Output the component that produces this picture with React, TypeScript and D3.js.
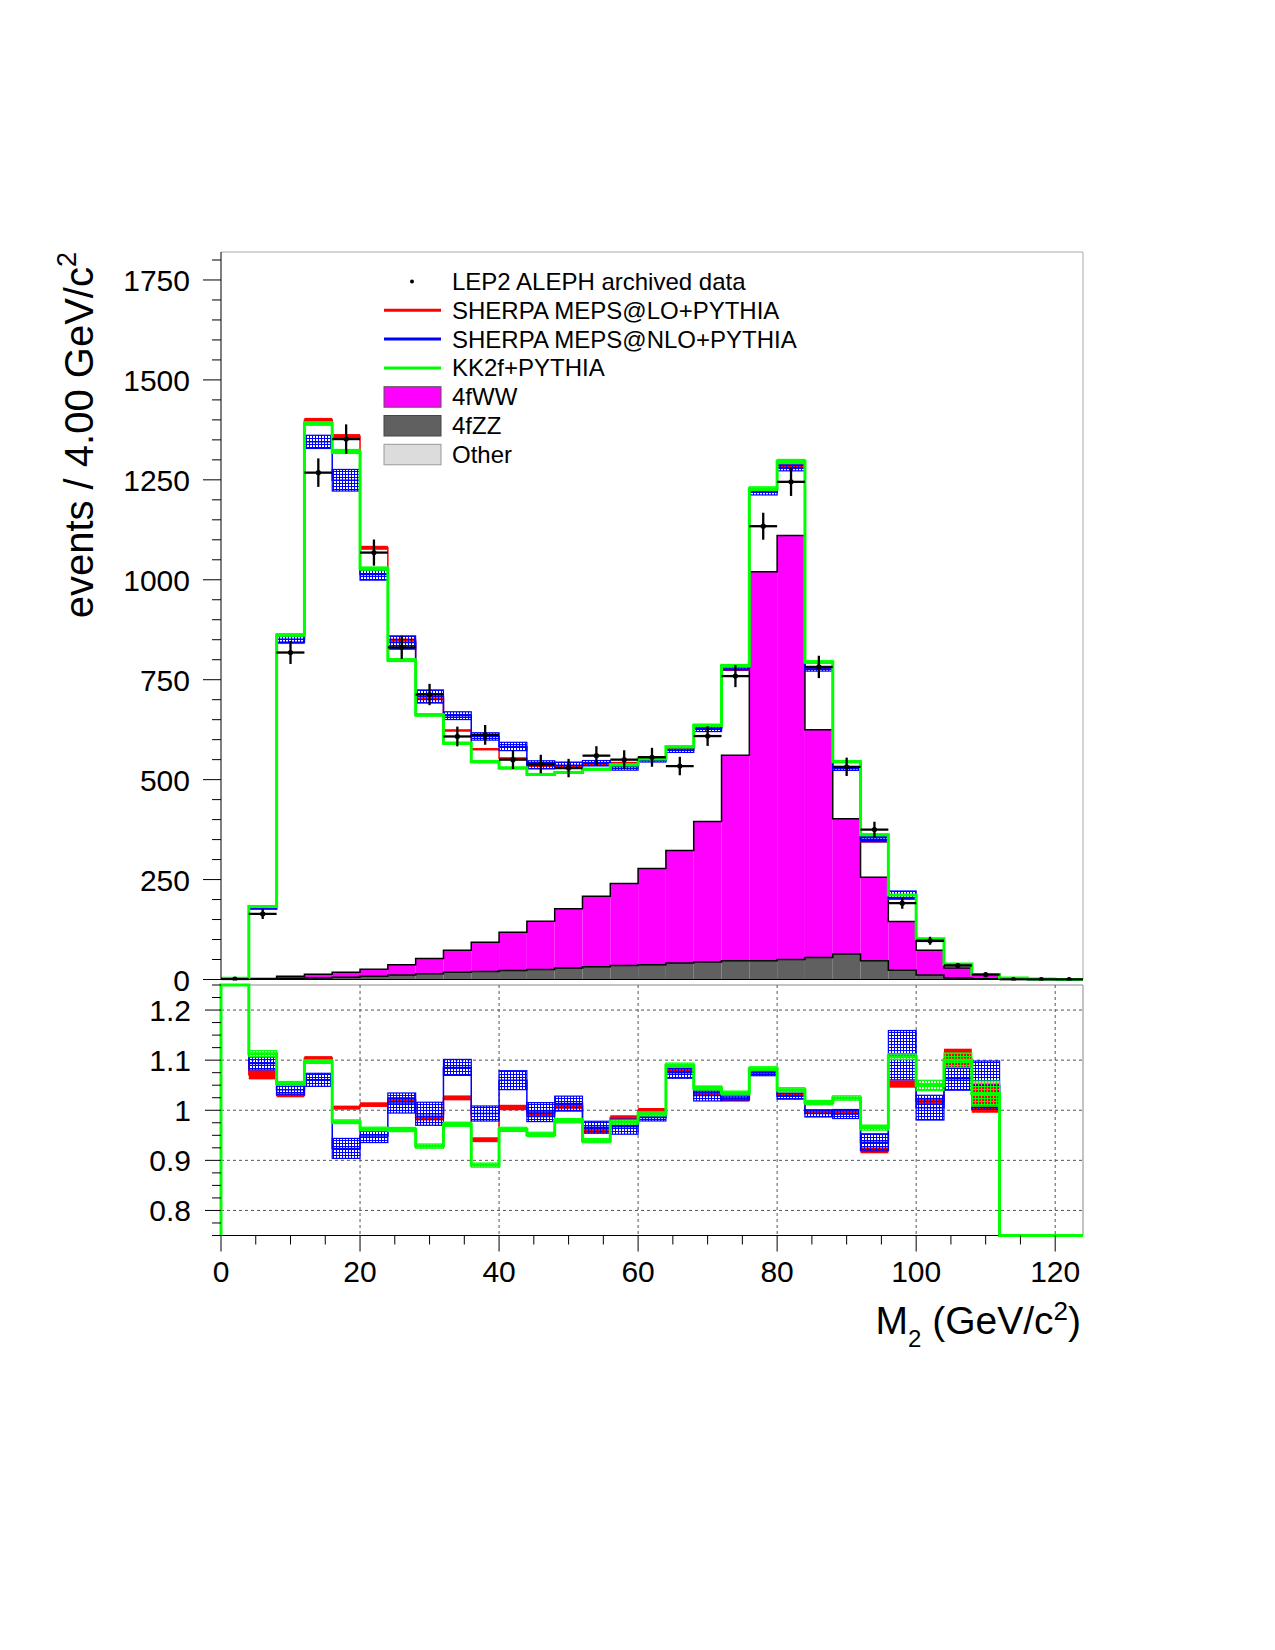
import * as d3 from "d3";

// bins of M2, 4 GeV wide
const binLow = [0, 4, 8, 12, 16, 20, 24, 28, 32, 36, 40, 44, 48, 52, 56, 60, 64, 68, 72, 76, 80, 84, 88, 92, 96, 100, 104, 108, 112, 116, 120];
const binWidth = 4;

const aleph = [1, 164, 818, 1268, 1352, 1068, 831, 713, 608, 612, 550, 539, 529, 560, 550, 556, 534, 609, 759, 1134, 1245, 782, 532, 375, 191, 97, 35, 12, 0, 0, 0];

const sherpaLO = [3, 175.6, 842.5, 1400, 1359, 1080, 849, 702, 623, 576, 553, 534, 533, 537, 542, 556, 578, 630, 775, 1221, 1284, 780, 530, 345, 201, 98.8, 38.6, 12.3, 4, 1, 0];
const sherpaLOErr = [0.5, 1.5, 3.3, 5, 5.5, 5, 4, 3.5, 3, 3, 3, 2.5, 2.5, 2.5, 2.5, 2.5, 2.5, 3, 3, 4, 4.5, 3.5, 2.5, 2.2, 1.4, 0.6, 0.7, 0.36, 0.2, 0.1, 0];
const sherpaNLO = [3, 179.3, 851.5, 1345, 1249, 1013, 843, 708, 660, 608, 583, 537, 536, 541, 532, 548, 574, 627, 779, 1219, 1280, 777, 528, 351, 212, 97.5, 37.2, 12.6, 4, 1, 0];
const sherpaNLOErr = [0.5, 2.1, 8.2, 16.5, 27, 13.9, 16.6, 16.4, 9.7, 9.2, 10.4, 10.2, 7.9, 6.7, 8.3, 3.9, 5.9, 6.7, 4.6, 6.8, 7.5, 5.5, 4.8, 6.4, 9.4, 2.4, 0.8, 0.58, 0.3, 0.1, 0];
const kk2f = [3, 182.5, 862, 1391, 1321, 1028, 799, 662, 591, 545, 529, 513, 518, 526, 537, 552, 582, 636, 785, 1228, 1296, 794, 545, 362, 211.4, 101.8, 38.5, 12.4, 4, 1, 0];
const kk2fErr = [0.3, 1, 3, 4.5, 5, 4, 3.5, 3, 2.5, 2.5, 2.3, 2.3, 2.3, 2.3, 2.3, 2.3, 2.3, 2.5, 3, 4.5, 5, 3.3, 2.3, 1.9, 1.1, 1.0, 0.5, 0.3, 0.2, 0.1, 0];

// stacked backgrounds, bottom to top
const otherBkg = [0.5, 0.5, 1, 1, 1, 1, 1, 1, 1, 1, 1, 1, 1, 1, 1, 1, 1, 1, 1, 1, 1, 1, 1, 1, 0.5, 0.3, 0.2, 0.1, 0, 0, 0];
const zzBkg = [0.5, 1.2, 2, 3, 4.5, 7, 10, 13.5, 17, 19, 21.5, 24, 28, 31, 34, 36, 40, 43, 46, 46, 49, 54, 63, 46, 22.5, 10.7, 3.8, 1.9, 1, 0.3, 0.1];
const wwBkg = [1, 1, 5, 9, 12.5, 17.5, 26, 38, 55, 73, 95.5, 121, 148, 176, 205, 241, 282, 351, 514, 973, 1061, 570, 338, 209, 122, 62, 25, 10, 3.5, 0.7, 0.4];

const countTicks = [0, 250, 500, 750, 1000, 1250, 1500, 1750];
const ratioTicks = [0.8, 0.9, 1, 1.1, 1.2];
const massTicks = [0, 20, 40, 60, 80, 100, 120];

const FONT = "'Liberation Sans', Arial, Helvetica, sans-serif";
const X0 = 221, X1 = 1083;
const TOP = 252, BASE = 979.5;
const RTOP = 985, RBOT = 1235.5;

const RED = "#ff0000", BLUE = "#0000ff", GREEN = "#00ff00";

type Pt = [number, number];

export default function App() {
  const x = d3.scaleLinear().domain([0, 124]).range([X0, X1]);
  const y = d3.scaleLinear().domain([0, 1820]).range([BASE, TOP]);
  const yr = d3.scaleLinear().domain([0.75, 1.25]).range([RBOT, RTOP]).clamp(true);

  const n = binLow.length;
  const stepPath = (vals: number[], ys: d3.ScaleLinear<number, number>, base: number) => {
    const pts: Pt[] = [[binLow[0], base]];
    vals.forEach((v, i) => pts.push([binLow[i], v]));
    pts.push([binLow[n - 1] + binWidth, vals[n - 1]]);
    pts.push([binLow[n - 1] + binWidth, base]);
    return d3
      .line<Pt>()
      .x((d) => x(d[0]))
      .y((d) => ys(d[1]))
      .curve(d3.curveStepAfter)(pts) as string;
  };

  const rows = binLow.map((_, i) => ({ other: otherBkg[i], zz: zzBkg[i], ww: wwBkg[i] }));
  const stack = d3.stack<{ other: number; zz: number; ww: number }>().keys(["other", "zz", "ww"])(rows);
  const stackColors = ["#dcdcdc", "#606060", "#ff00ff"];

  const models = [
    { vals: sherpaLO, err: sherpaLOErr, color: RED, fill: RED, stroke: "none", lw: 1.5 },
    { vals: sherpaNLO, err: sherpaNLOErr, color: BLUE, fill: "url(#hatchBlue)", stroke: BLUE, lw: 1.5 },
    { vals: kk2f, err: kk2fErr, color: GREEN, fill: "url(#hatchGreen)", stroke: GREEN, lw: 3 },
  ];

  const ratioOf = (vals: number[]) => vals.map((v, i) => (aleph[i] > 0 ? v / aleph[i] : 0));

  const legend = [
    { label: "LEP2 ALEPH archived data", kind: "dot", color: "#000" },
    { label: "SHERPA MEPS@LO+PYTHIA", kind: "line", color: RED },
    { label: "SHERPA MEPS@NLO+PYTHIA", kind: "line", color: BLUE },
    { label: "KK2f+PYTHIA", kind: "line", color: GREEN },
    { label: "4fWW", kind: "box", color: "#ff00ff", edge: "#555" },
    { label: "4fZZ", kind: "box", color: "#606060", edge: "#444" },
    { label: "Other", kind: "box", color: "#dcdcdc", edge: "#999" },
  ];

  const bw = x(binWidth) - x(0);

  return (
    <svg
      width={1275}
      height={1650}
      style={{ position: "absolute", left: 0, top: 0, background: "#fff" }}
      fontFamily={FONT}
    >
      <defs>
        <pattern id="hatchBlue" width="3" height="3" patternUnits="userSpaceOnUse">
          <rect width="3" height="1" fill={BLUE} />
          <rect width="1" height="3" fill={BLUE} />
        </pattern>
        <pattern id="hatchGreen" width="3" height="3" patternUnits="userSpaceOnUse">
          <rect width="3" height="1" fill={GREEN} />
          <rect width="1" height="3" fill={GREEN} />
        </pattern>
        <clipPath id="clipMain">
          <rect x={X0} y={TOP} width={X1 - X0} height={BASE - TOP + 1} />
        </clipPath>
        <clipPath id="clipRatio">
          <rect x={X0 - 2} y={RTOP - 2} width={X1 - X0 + 4} height={RBOT - RTOP + 4} />
        </clipPath>
      </defs>

      {/* ---------- main pad ---------- */}
      <line x1={X0} x2={X1} y1={TOP} y2={TOP} stroke="#aaa" />
      <line x1={X1} x2={X1} y1={TOP} y2={BASE} stroke="#aaa" />

      <g clipPath="url(#clipMain)">
        {stack.map((s, k) =>
          s.map((d, i) => (
            <rect
              key={`s${k}-${i}`}
              x={x(binLow[i])}
              width={bw}
              y={y(d[1])}
              height={Math.max(0, y(d[0]) - y(d[1]))}
              fill={stackColors[k]}
            />
          ))
        )}
        {[1, 2].map((k) => (
          <path key={`o${k}`} d={stepPath(stack[k].map((d) => d[1]), y, 0)} fill="none" stroke="#000" strokeWidth={1.5} />
        ))}

        {models.map((m, mi) => (
          <g key={`m${mi}`}>
            {m.vals.map((v, i) => (
              <rect
                key={i}
                x={x(binLow[i])}
                width={bw}
                y={y(v + m.err[i])}
                height={Math.max(0.8, y(v - m.err[i]) - y(v + m.err[i]))}
                fill={m.fill}
                stroke={m.stroke}
                strokeWidth={1.2}
              />
            ))}
            <path d={stepPath(m.vals, y, 0)} fill="none" stroke={m.color} strokeWidth={m.lw} />
          </g>
        ))}

        {aleph.map((d, i) => {
          const cx = x(binLow[i] + binWidth / 2);
          const e = Math.sqrt(d);
          return (
            <g key={`d${i}`} stroke="#000" strokeWidth={2.3}>
              <line x1={x(binLow[i])} x2={x(binLow[i] + binWidth)} y1={y(d)} y2={y(d)} />
              <line x1={cx} x2={cx} y1={y(d + e)} y2={y(d - e)} />
              <circle cx={cx} cy={y(d)} r={2.6} fill="#000" stroke="none" />
            </g>
          );
        })}
      </g>

      <line x1={X0} x2={X0} y1={TOP} y2={BASE} stroke="#000" />
      <line x1={X0} x2={X1} y1={BASE} y2={BASE} stroke="#000" />
      {d3.range(0, 1801, 50).map((t) => (
        <line key={`yt${t}`} x1={t % 250 === 0 ? X0 - 18 : X0 - 9} x2={X0} y1={y(t)} y2={y(t)} stroke="#000" />
      ))}
      {countTicks.map((t) => (
        <text key={`yl${t}`} x={190} y={y(t) + 11} fontSize={30} textAnchor="end">
          {t}
        </text>
      ))}
      <text transform={`translate(93,${TOP}) rotate(-90)`} fontSize={40} textAnchor="end">
        events / 4.00 GeV/c
        <tspan fontSize={27} dy={-17}>
          2
        </tspan>
      </text>

      {/* legend */}
      {legend.map((e, i) => {
        const base = 290 + i * 28.8;
        const cy = base - 8.5;
        return (
          <g key={`lg${i}`}>
            {e.kind === "dot" && <circle cx={412} cy={cy} r={2} fill="#000" />}
            {e.kind === "line" && <line x1={384} x2={441} y1={cy} y2={cy} stroke={e.color} strokeWidth={3} />}
            {e.kind === "box" && (
              <rect x={384} y={cy - 10} width={57} height={20.5} fill={e.color} stroke={e.edge} strokeWidth={1} />
            )}
            <text x={452} y={base} fontSize={24}>
              {e.label}
            </text>
          </g>
        );
      })}

      {/* ---------- ratio pad ---------- */}
      <line x1={X0} x2={X1} y1={RTOP} y2={RTOP} stroke="#888" />
      <line x1={X1} x2={X1} y1={RTOP} y2={RBOT} stroke="#888" />
      <g stroke="#555" strokeDasharray="3,3" strokeWidth={1}>
        {ratioTicks.map((t) => (
          <line key={`rg${t}`} x1={X0} x2={X1} y1={yr(t)} y2={yr(t)} />
        ))}
        {massTicks.slice(1).map((t) => (
          <line key={`xg${t}`} x1={x(t)} x2={x(t)} y1={RTOP} y2={RBOT} />
        ))}
      </g>
      <line x1={X0} x2={X0} y1={RTOP} y2={RBOT} stroke="#000" />
      <line x1={X0} x2={X1} y1={RBOT} y2={RBOT} stroke="#000" />

      <g clipPath="url(#clipRatio)">
        {models.map((m, mi) => {
          const r = ratioOf(m.vals);
          return (
            <g key={`r${mi}`}>
              {r.map((v, i) => {
                if (aleph[i] <= 0) return null;
                const e = m.err[i] / aleph[i];
                const top = yr(v + e);
                const h = yr(v - e) - top;
                if (h <= 0) return null;
                return (
                  <rect
                    key={i}
                    x={x(binLow[i])}
                    width={bw}
                    y={top}
                    height={Math.max(0.8, h)}
                    fill={m.fill}
                    stroke={m.stroke}
                    strokeWidth={1.2}
                  />
                );
              })}
              <path d={stepPath(r, yr, 0.75)} fill="none" stroke={m.color} strokeWidth={m.lw} />
            </g>
          );
        })}
      </g>

      {d3.range(0, 1.2501 - 0.75, 0.025).map((k) => {
        const t = 0.75 + k;
        const major = Math.abs(Math.round(t * 10) - t * 10) < 1e-6;
        return <line key={`rt${k}`} x1={major ? X0 - 16 : X0 - 9} x2={X0} y1={yr(t)} y2={yr(t)} stroke="#000" />;
      })}
      {ratioTicks.map((t) => (
        <text key={`rl${t}`} x={191} y={yr(t) + 11} fontSize={30} textAnchor="end">
          {String(t)}
        </text>
      ))}

      {d3.range(0, 121, 5).map((t) => (
        <line key={`xt${t}`} x1={x(t)} x2={x(t)} y1={RBOT} y2={RBOT + (t % 20 === 0 ? 16 : 9)} stroke="#000" />
      ))}
      {massTicks.map((t) => (
        <text key={`xl${t}`} x={x(t)} y={1282} fontSize={30} textAnchor="middle">
          {t}
        </text>
      ))}
      <text x={1081} y={1334} fontSize={39} textAnchor="end">
        M
        <tspan fontSize={24} dy={13}>
          2
        </tspan>
        <tspan dy={-13}> (GeV/c</tspan>
        <tspan fontSize={26} dy={-14}>
          2
        </tspan>
        <tspan dy={14}>)</tspan>
      </text>
    </svg>
  );
}
